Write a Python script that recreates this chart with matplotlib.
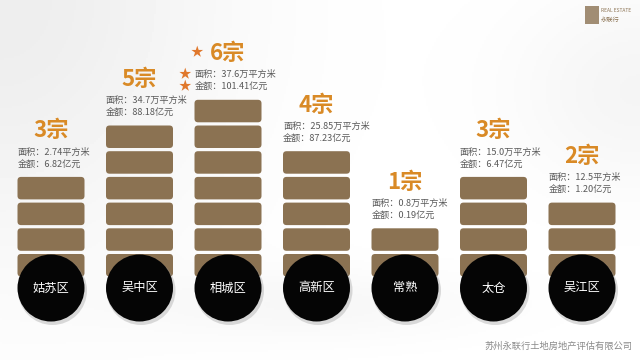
# land_deals_blocks.py

import numpy as np
import matplotlib.pyplot as plt
from matplotlib.patches import FancyBboxPatch, Ellipse, Rectangle

plt.rcParams['font.family'] = ['Noto Sans CJK SC', 'DejaVu Sans']


# Chart data
districts = ["姑苏区", "吴中区", "相城区", "高新区", "常熟", "太仓", "吴江区"]
deals = [3, 5, 6, 4, 1, 3, 2]
area_text = ["2.74平方米", "34.7万平方米", "37.6万平方米", "25.85万平方米",
             "0.8万平方米", "15.0万平方米", "12.5平方米"]
amount_values = [6.82, 88.18, 101.41, 87.23, 0.19, 6.47, 1.20]
footer = "苏州永联行土地房地产评估有限公司"


BLOCK_COLOR = "#8b7252"
GOLD = "#d98a26"
STAR = "#e0782c"
GREY_TEXT = "#5a5a5a"

# pixel scale of one unit on each axis (figure is 640x360)
PX_X = 88.5
PX_Y = 25.7
BLOCK_W = 67 / PX_X
BLOCK_H = 22.5 / PX_Y

fig = plt.figure(figsize=(6.4, 3.6), dpi=100)

# soft grey background swooshes (decoration only)
bg = fig.add_axes([0, 0, 1, 1])
gx, gy = np.meshgrid(np.linspace(0, 1, 320), np.linspace(0, 1, 180))
shade = (1.0
         - 0.07 * np.exp(-(gx ** 2 / 0.12 + gy ** 2 / 0.5))
         - 0.04 * np.exp(-((gx - 1) ** 2 / 0.04 + (gy - 0.25) ** 2 / 0.08))
         - 0.03 * np.exp(-((gx - 0.5) ** 2 / 0.08 + (gy - 0.85) ** 2 / 0.01)))
bg.imshow(shade, cmap="gray", vmin=0, vmax=1, extent=[0, 1, 0, 1],
          aspect="auto", origin="upper")
bg.axis("off")

ax = fig.add_axes([0, 0, 1, 1])
ax.set_xlim(-51 / PX_X, (640 - 51) / PX_X)
ax.set_ylim(-(360 - 276.5) / PX_Y, 276.5 / PX_Y)
ax.axis("off")

top_deal = max(deals)

for i, (name, n) in enumerate(zip(districts, deals)):
    left = i - BLOCK_W / 2

    # stacked blocks: one base block plus one per deal
    for k in range(n + 1):
        box = FancyBboxPatch((left, k), BLOCK_W, BLOCK_H,
                             boxstyle="round,pad=0,rounding_size=0.04",
                             mutation_aspect=PX_X / PX_Y,
                             facecolor=BLOCK_COLOR, edgecolor="none", zorder=2)
        ax.add_patch(box)

    # black district disc with soft shadow
    cy = -11.5 / PX_Y
    ax.add_patch(Ellipse((i + 1.5 / PX_X, cy - 2.5 / PX_Y), 69 / PX_X, 69 / PX_Y,
                         facecolor="#999999", alpha=0.35, edgecolor="none", zorder=3))
    ax.add_patch(Ellipse((i, cy), 67 / PX_X, 67 / PX_Y,
                         facecolor="#050505", edgecolor="none", zorder=4))
    ax.text(i, cy, name, color="white", fontsize=8.8, ha="center", va="center", zorder=5)

    # labels above the stack
    top = n + BLOCK_H
    ax.text(i, top + 46 / PX_Y, f"{n}宗", color=GOLD, fontsize=16, fontweight="bold",
            ha="center", va="center")
    ax.text(left, top + 25 / PX_Y, f"面积：{area_text[i]}", color=GREY_TEXT,
            fontsize=6.6, ha="left", va="center")
    ax.text(left, top + 13 / PX_Y, f"金额：{amount_values[i]:.2f}亿元", color=GREY_TEXT,
            fontsize=6.6, ha="left", va="center")

    if n == top_deal:
        ax.text(i - 31 / PX_X, top + 47 / PX_Y, "★", color=STAR, fontsize=9,
                ha="center", va="center")
        for off in (25, 13):
            ax.text(left - 10 / PX_X, top + off / PX_Y, "★", color=STAR, fontsize=9,
                    ha="center", va="center")


# logo in the top right corner
fig.patches.append(Rectangle((585 / 640, 1 - 24 / 360), 14 / 640, 18 / 360,
                             transform=fig.transFigure, facecolor="#8b7252",
                             edgecolor="none", alpha=0.8))
fig.text(601 / 640, 1 - 10 / 360, "REAL ESTATE", fontsize=3.5, color="#8b7252",
         ha="left", va="center")
fig.text(601 / 640, 1 - 20 / 360, "永联行", fontsize=4.5, color="#8b7252",
         ha="left", va="center")

fig.text(632 / 640, 1 - 346 / 360, footer, fontsize=6.7, color="#8a8a8a",
         ha="right", va="center")

plt.savefig("out.png", dpi=100)
plt.close()
